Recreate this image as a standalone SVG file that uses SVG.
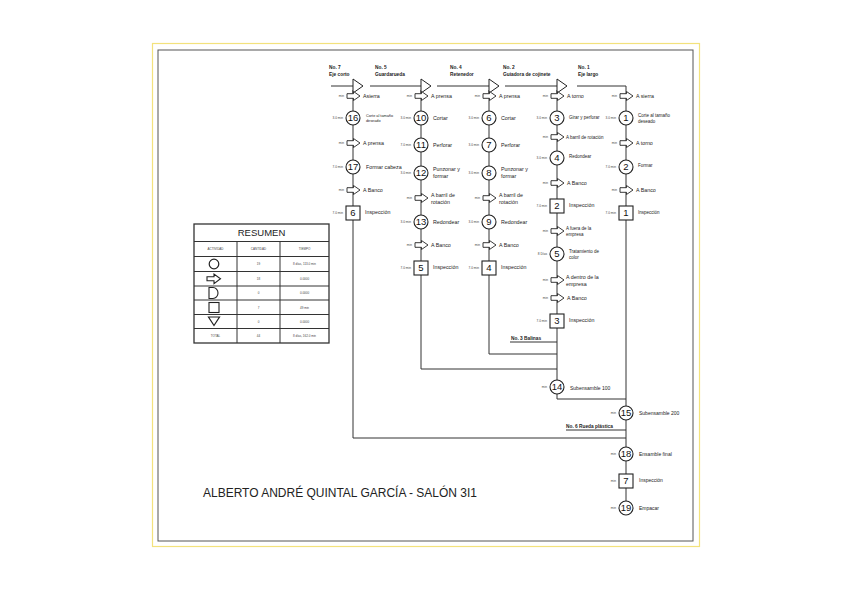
<svg xmlns="http://www.w3.org/2000/svg" xmlns:xlink="http://www.w3.org/1999/xlink" width="848" height="599" viewBox="0 0 848 599">
<style>
text{font-family:"Liberation Sans",Arial,sans-serif;fill:#222}
.ln{stroke:#333;stroke-width:1;fill:none}
.sym{fill:#fff;stroke:#222;stroke-width:1.1}
.num{font-size:9.5px;text-anchor:middle;fill:#111}
.lb{font-size:5.3px}
.sm{font-size:4.5px}
.bt{font-size:5px}
.xs{font-size:3.8px}
.t{font-size:3.2px;text-anchor:end;fill:#444}
.hd{font-size:4.8px;font-weight:bold}
.tb{font-size:3px;text-anchor:middle;fill:#444}
</style>
<defs>
<path id="ar" d="M-6,-2.3 H0.5 V-4.5 L7,0 L0.5,4.5 V2.3 H-6 Z" fill="#fff" stroke="#222" stroke-width="0.9"/>
<path id="inl" d="M0,79 L10,86 L0,93 Z" fill="#fff" stroke="#222" stroke-width="1"/>
</defs>
<rect x="152.5" y="43.5" width="547" height="503" fill="none" stroke="#f3e27c" stroke-width="1.2"/>
<rect x="158" y="50" width="535" height="491" fill="none" stroke="#555" stroke-width="1"/>

<g id="connectors">
<path class="ln" d="M331,86 H353"/>
<path class="ln" d="M370,86 H421"/>
<path class="ln" d="M437,86 H489"/>
<path class="ln" d="M505,86 H557"/>
<path class="ln" d="M577,86 H626 V508"/>
<path class="ln" d="M353,90 V438 H626"/>
<path class="ln" d="M421,90 V369 H557"/>
<path class="ln" d="M489,90 V354 H557"/>
<path class="ln" d="M557,90 V399 H626"/>
<path class="ln" d="M510,342 H557"/>
<path class="ln" d="M566,430 H626"/>
</g>

<g id="headers">
<text class="hd" x="329" y="69">No. 7</text><text class="hd" x="329" y="76">Eje corto</text>
<text class="hd" x="375" y="69">No. 5</text><text class="hd" x="375" y="76">Guardarueda</text>
<text class="hd" x="450" y="69">No. 4</text><text class="hd" x="450" y="76">Retenedor</text>
<text class="hd" x="503" y="69">No. 2</text><text class="hd" x="503" y="76">Guiadora de cojinete</text>
<text class="hd" x="578" y="69">No. 1</text><text class="hd" x="578" y="76">Eje largo</text>
<text class="hd" x="511" y="340">No. 3 Balinas</text>
<text class="hd" x="566" y="428">No. 6 Rueda plástica</text>
</g>

<g id="inlets">
<use href="#inl" x="353" y="0"/>
<use href="#inl" x="421" y="0"/>
<use href="#inl" x="489" y="0"/>
<use href="#inl" x="557" y="0"/>
</g>

<!-- Column A : Eje corto -->
<g id="a-t1"><text class="t" x="344" y="97">min</text><use href="#ar" x="353" y="96"/><text class="lb" x="363" y="98">Asierra</text></g>
<g id="op16"><text class="t" x="343" y="119">3.0 min</text><circle class="sym" cx="353" cy="118" r="7"/><text class="num" x="353" y="121.3">16</text><text class="xs" x="366" y="116.5">Corte al tamaño</text><text class="xs" x="366" y="121.8">deseado</text></g>
<g id="a-t2"><text class="t" x="344" y="144">min</text><use href="#ar" x="353" y="143"/><text class="lb" x="363" y="145">A prensa</text></g>
<g id="op17"><text class="t" x="343" y="168">7.0 min</text><circle class="sym" cx="353" cy="167" r="7"/><text class="num" x="353" y="170.3">17</text><text class="lb" x="366" y="169">Formar cabeza</text></g>
<g id="a-t3"><text class="t" x="344" y="191">min</text><use href="#ar" x="353" y="190"/><text class="lb" x="363" y="192">A Banco</text></g>
<g id="in6"><text class="t" x="343" y="214">7.0 min</text><rect class="sym" x="346" y="206" width="14" height="14"/><text class="num" x="353" y="216.3">6</text><text class="lb" x="365" y="214">Inspección</text></g>

<!-- Column B : Guardarueda -->
<g id="b-t1"><text class="t" x="412" y="97">min</text><use href="#ar" x="421" y="96"/><text class="lb" x="431" y="98">A prensa</text></g>
<g id="op10"><text class="t" x="411" y="119">3.0 min</text><circle class="sym" cx="421" cy="118" r="7"/><text class="num" x="421" y="121.3">10</text><text class="lb" x="433" y="120">Cortar</text></g>
<g id="op11"><text class="t" x="411" y="146">7.0 min</text><circle class="sym" cx="421" cy="145" r="7"/><text class="num" x="421" y="148.3">11</text><text class="lb" x="433" y="147">Perforar</text></g>
<g id="op12"><text class="t" x="411" y="174">3.0 min</text><circle class="sym" cx="421" cy="173" r="7"/><text class="num" x="421" y="176.3">12</text><text class="lb" x="433" y="171">Punzonar y</text><text class="lb" x="433" y="177.5">formar</text></g>
<g id="b-t2"><text class="t" x="412" y="199">min</text><use href="#ar" x="421" y="198"/><text class="lb" x="431" y="197">A barril de</text><text class="lb" x="431" y="203.5">rotación</text></g>
<g id="op13"><text class="t" x="411" y="223">3.0 min</text><circle class="sym" cx="421" cy="222" r="7"/><text class="num" x="421" y="225.3">13</text><text class="lb" x="433" y="224">Redondear</text></g>
<g id="b-t3"><text class="t" x="412" y="246">min</text><use href="#ar" x="421" y="245"/><text class="lb" x="431" y="247">A Banco</text></g>
<g id="in5"><text class="t" x="411" y="269">7.0 min</text><rect class="sym" x="414" y="261" width="14" height="14"/><text class="num" x="421" y="271.3">5</text><text class="lb" x="433" y="269">Inspección</text></g>

<!-- Column C : Retenedor -->
<g id="c-t1"><text class="t" x="480" y="97">min</text><use href="#ar" x="489" y="96"/><text class="lb" x="499" y="98">A prensa</text></g>
<g id="op6"><text class="t" x="479" y="119">3.0 min</text><circle class="sym" cx="489" cy="118" r="7"/><text class="num" x="489" y="121.3">6</text><text class="lb" x="501" y="120">Cortar</text></g>
<g id="op7"><text class="t" x="479" y="146">3.0 min</text><circle class="sym" cx="489" cy="145" r="7"/><text class="num" x="489" y="148.3">7</text><text class="lb" x="501" y="147">Perforar</text></g>
<g id="op8"><text class="t" x="479" y="174">3.0 min</text><circle class="sym" cx="489" cy="173" r="7"/><text class="num" x="489" y="176.3">8</text><text class="lb" x="501" y="171">Punzonar y</text><text class="lb" x="501" y="177.5">formar</text></g>
<g id="c-t2"><text class="t" x="480" y="199">min</text><use href="#ar" x="489" y="198"/><text class="lb" x="499" y="197">A barril de</text><text class="lb" x="499" y="203.5">rotación</text></g>
<g id="op9"><text class="t" x="479" y="223">3.0 min</text><circle class="sym" cx="489" cy="222" r="7"/><text class="num" x="489" y="225.3">9</text><text class="lb" x="501" y="224">Redondear</text></g>
<g id="c-t3"><text class="t" x="480" y="246">min</text><use href="#ar" x="489" y="245"/><text class="lb" x="499" y="247">A Banco</text></g>
<g id="in4"><text class="t" x="479" y="269">7.0 min</text><rect class="sym" x="482" y="261" width="14" height="14"/><text class="num" x="489" y="271.3">4</text><text class="lb" x="501" y="269">Inspección</text></g>

<!-- Column D : Guiadora de cojinete -->
<g id="d-t1"><text class="t" x="548" y="97">min</text><use href="#ar" x="557" y="96"/><text class="lb" x="567" y="98">A torno</text></g>
<g id="op3"><text class="t" x="547" y="119">3.0 min</text><circle class="sym" cx="557" cy="118" r="7"/><text class="num" x="557" y="121.3">3</text><text class="sm" x="569" y="119">Girar y perforar</text></g>
<g id="d-t2"><text class="t" x="548" y="138">min</text><use href="#ar" x="557" y="137"/><text class="sm" x="566" y="138.5">A barril de rotación</text></g>
<g id="op4"><text class="t" x="547" y="159">3.0 min</text><circle class="sym" cx="557" cy="158" r="7"/><text class="num" x="557" y="161.3">4</text><text class="sm" x="569" y="158">Redondear</text></g>
<g id="d-t3"><text class="t" x="548" y="184">min</text><use href="#ar" x="557" y="183"/><text class="lb" x="567" y="185">A Banco</text></g>
<g id="in2"><text class="t" x="547" y="207">7.0 min</text><rect class="sym" x="550" y="199" width="14" height="14"/><text class="num" x="557" y="209.3">2</text><text class="lb" x="569" y="207">Inspección</text></g>
<g id="d-t4"><text class="t" x="548" y="232">min</text><use href="#ar" x="557" y="231"/><text class="sm" x="566" y="230">A fuera de la</text><text class="sm" x="566" y="235.8">empresa</text></g>
<g id="op5"><text class="t" x="547" y="255">8 Días</text><circle class="sym" cx="557" cy="254" r="7"/><text class="num" x="557" y="257.3">5</text><text class="sm" x="569" y="253">Tratamiento de</text><text class="sm" x="569" y="258.8">color</text></g>
<g id="d-t5"><text class="t" x="548" y="281">min</text><use href="#ar" x="557" y="280"/><text class="lb" x="566" y="279">A dentro de la</text><text class="lb" x="566" y="285.5">empresa</text></g>
<g id="d-t6"><text class="t" x="548" y="299">min</text><use href="#ar" x="557" y="298"/><text class="lb" x="567" y="300">A Banco</text></g>
<g id="in3"><text class="t" x="547" y="322">7.0 min</text><rect class="sym" x="550" y="314" width="14" height="14"/><text class="num" x="557" y="324.3">3</text><text class="lb" x="569" y="322">Inspección</text></g>

<!-- Column E : Eje largo -->
<g id="e-t1"><text class="t" x="617" y="97">min</text><use href="#ar" x="626" y="96"/><text class="lb" x="636" y="98">A sierra</text></g>
<g id="op1"><text class="t" x="616" y="119">3.0 min</text><circle class="sym" cx="626" cy="118" r="7"/><text class="num" x="626" y="121.3">1</text><text class="sm" x="638" y="117">Corte al tamaño</text><text class="sm" x="638" y="122.5">deseado</text></g>
<g id="e-t2"><text class="t" x="617" y="144">min</text><use href="#ar" x="626" y="143"/><text class="lb" x="636" y="145">A torno</text></g>
<g id="op2"><text class="t" x="616" y="168">7.0 min</text><circle class="sym" cx="626" cy="167" r="7"/><text class="num" x="626" y="170.3">2</text><text class="sm" x="638" y="167">Formar</text></g>
<g id="e-t3"><text class="t" x="617" y="191">min</text><use href="#ar" x="626" y="190"/><text class="lb" x="636" y="192">A Banco</text></g>
<g id="in1"><text class="t" x="616" y="214">7.0 min</text><rect class="sym" x="619" y="206" width="14" height="14"/><text class="num" x="626" y="216.3">1</text><text class="sm" x="638" y="214">Inspección</text></g>

<!-- Assembly -->
<g id="op14"><text class="t" x="547" y="388">min</text><circle class="sym" cx="557" cy="387" r="7"/><text class="num" x="557" y="390.3">14</text><text class="bt" x="570" y="389.5">Subensamble 100</text></g>
<g id="op15"><text class="t" x="616" y="414">min</text><circle class="sym" cx="626" cy="413" r="7"/><text class="num" x="626" y="416.3">15</text><text class="bt" x="639" y="415">Subensamble 200</text></g>
<g id="op18"><text class="t" x="616" y="455">min</text><circle class="sym" cx="626" cy="454" r="7"/><text class="num" x="626" y="457.3">18</text><text class="bt" x="639" y="456">Ensamble final</text></g>
<g id="in7"><text class="t" x="616" y="482">min</text><rect class="sym" x="619" y="474" width="14" height="14"/><text class="num" x="626" y="484.3">7</text><text class="bt" x="639" y="482">Inspección</text></g>
<g id="op19"><text class="t" x="616" y="509">min</text><circle class="sym" cx="626" cy="508" r="7"/><text class="num" x="626" y="511.3">19</text><text class="bt" x="639" y="510">Empacar</text></g>

<!-- Resumen table -->
<g id="resumen">
<rect x="194" y="224" width="135" height="119" fill="#fff" stroke="#333" stroke-width="1.3"/>
<path class="ln" d="M194,241.5 H329 M194,256.5 H329 M194,271.5 H329 M194,286 H329 M194,300 H329 M194,314.5 H329 M194,328.5 H329 M237,241.5 V343 M280,241.5 V343" stroke-width="0.8"/>
<text x="261.5" y="236" font-size="9.5" text-anchor="middle">RESUMEN</text>
<text class="tb" x="215.5" y="250">ACTIVIDAD</text>
<text class="tb" x="258.5" y="250">CANTIDAD</text>
<text class="tb" x="304.5" y="250">TIEMPO</text>
<circle cx="214" cy="264" r="4.8" fill="none" stroke="#222" stroke-width="1.2"/>
<path d="M207,276.8 H214 V274 L220.5,278.8 L214,283.6 V280.8 H207 Z" fill="#fff" stroke="#222" stroke-width="1.1"/>
<path d="M209,287.5 H213 A5 5.5 0 0 1 213,298.5 H209 Z" fill="none" stroke="#222" stroke-width="1.1"/>
<rect x="209" y="302.5" width="10" height="10" fill="none" stroke="#222" stroke-width="1.1"/>
<path d="M208.5,317 H219.5 L214,325.5 Z" fill="none" stroke="#222" stroke-width="1.2"/>
<text class="tb" x="215.5" y="337">TOTAL</text>
<text class="tb" x="258.5" y="265">19</text>
<text class="tb" x="258.5" y="280">18</text>
<text class="tb" x="258.5" y="294">0</text>
<text class="tb" x="258.5" y="308.5">7</text>
<text class="tb" x="258.5" y="322.5">0</text>
<text class="tb" x="258.5" y="337">44</text>
<text class="tb" x="304.5" y="265">8 días, 113.0 min</text>
<text class="tb" x="304.5" y="280">0.0000</text>
<text class="tb" x="304.5" y="294">0.0000</text>
<text class="tb" x="304.5" y="308.5">49 min</text>
<text class="tb" x="304.5" y="322.5">0.0000</text>
<text class="tb" x="304.5" y="337">8 días, 162.0 min</text>
</g>

<text x="203" y="497" font-size="12.5" textLength="274" lengthAdjust="spacingAndGlyphs" fill="#222">ALBERTO ANDRÉ QUINTAL GARCÍA - SALÓN 3I1</text>
</svg>
